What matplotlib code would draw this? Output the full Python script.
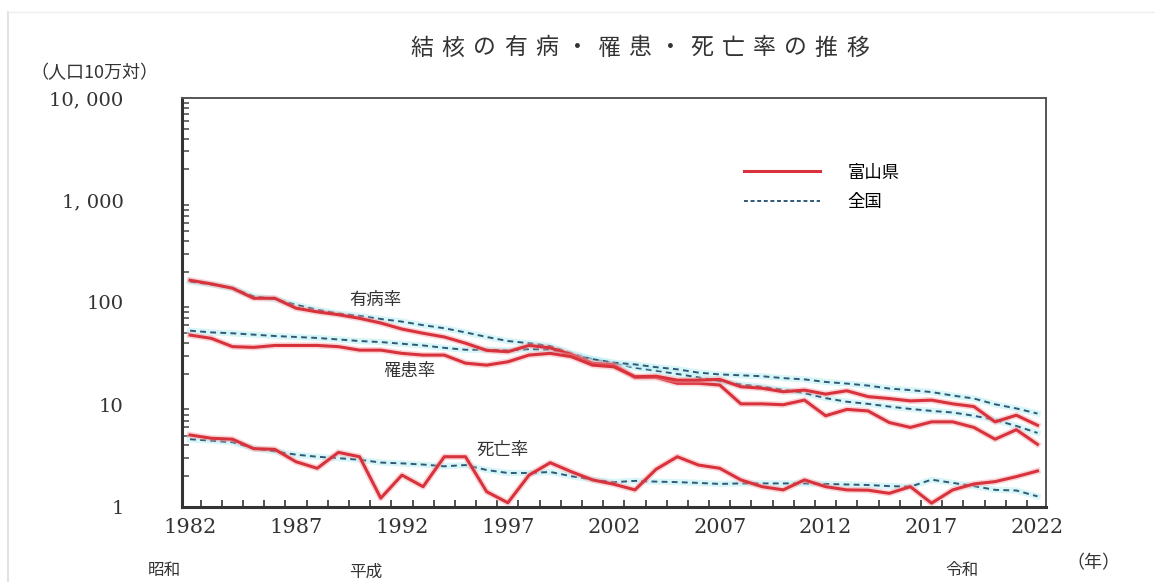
import matplotlib.pyplot as plt
import numpy as np
from matplotlib.lines import Line2D

plt.rcParams['font.family'] = ['Noto Sans CJK JP', 'DejaVu Sans']

# 人口10万対の率（1982〜2022年）
years = list(range(1982, 2023))

toyama_prevalence = [165, 152, 138, 110, 110, 88, 81, 76, 70, 63,
                     55, 50, 46, 40, 34, 33, 38, 36, 31, 25.4,
                     24.5, 18.5, 18.5, 16.2, 16.2, 15.6, 10.2, 10.2, 10.0, 11.1,
                     7.8, 9.0, 8.7, 6.7, 6.0, 6.8, 6.8, 6.0, 4.6, 5.7,
                     4.1]
toyama_incidence = [48, 44.6, 37, 36.4, 38, 38, 38, 37, 34.2, 34.2,
                    31.8, 30.6, 30.6, 25.5, 24.4, 26.3, 30.6, 31.8, 29.5, 24.4,
                    23.5, 18.8, 19.0, 17.4, 17.4, 17.7, 15.0, 14.5, 13.4, 13.9,
                    12.7, 13.7, 12.0, 11.5, 10.9, 11.1, 10.2, 9.6, 6.8, 7.9,
                    6.3]
toyama_death = [5.06, 4.7, 4.6, 3.72, 3.66, 2.77, 2.39, 3.42, 3.1, 1.22,
                2.05, 1.58, 3.1, 3.1, 1.41, 1.1, 2.05, 2.71, 2.21, 1.84,
                1.67, 1.47, 2.34, 3.1, 2.57, 2.39, 1.84, 1.58, 1.47, 1.84,
                1.58, 1.47, 1.46, 1.36, 1.58, 1.09, 1.47, 1.68, 1.77, 1.98,
                2.25]

japan_prevalence = [160, 150, 138, 115, 108, 95, 85, 78, 74, 69,
                    65, 60, 56, 51, 46, 42, 40, 37.5, 32, 28,
                    25.4, 23, 21.5, 20, 18.5, 17, 15.8, 15, 14, 13,
                    11.6, 10.7, 10.2, 9.6, 9.1, 8.7, 8.4, 7.8, 7.1, 6.2,
                    5.3]
japan_incidence = [53, 51, 50, 48.5, 47, 46, 45, 43.5, 42, 41,
                   39.5, 38, 36, 34.5, 34.5, 34, 35, 34.6, 30.7, 27.9,
                   25.8, 24.8, 23.3, 22.2, 20.6, 19.8, 19.4, 19.0, 18.2, 17.7,
                   16.7, 16.1, 15.4, 14.4, 13.9, 13.3, 12.3, 11.5, 10.1, 9.2,
                   8.2]
japan_death = [4.6, 4.45, 4.3, 3.75, 3.5, 3.25, 3.1, 3.0, 2.9, 2.72,
               2.67, 2.6, 2.5, 2.57, 2.3, 2.15, 2.15, 2.2, 2.0, 1.85,
               1.75, 1.8, 1.77, 1.75, 1.72, 1.68, 1.7, 1.7, 1.7, 1.7,
               1.68, 1.66, 1.64, 1.6, 1.58, 1.85, 1.72, 1.6, 1.47, 1.45,
               1.27]

year_labels = [1982, 1987, 1992, 1997, 2002, 2007, 2012, 2017, 2022]
y_ticks = [1, 10, 100, 1000, 10000]
y_labels = ['1', '10', '100', '1, 000', '10, 000']

RED = '#d8323c'
DASH = '#2e5a78'

fig = plt.figure(figsize=(11.55, 5.82), dpi=100)
ax = fig.add_axes([0.1576, 0.1289, 0.748, 0.7027])


def toyama_line(values):
    ax.plot(years, values, color='#f4a0a4', lw=4.5, alpha=0.45, solid_joinstyle='round')
    ax.plot(years, values, color=RED, lw=2.2, solid_joinstyle='round')


def japan_line(values):
    ax.plot(years, values, color='#bff0f4', lw=4.5, alpha=0.6)
    ax.plot(years, values, color=DASH, lw=1.4, dashes=(3, 2.2))


for v in (japan_prevalence, japan_incidence, japan_death):
    japan_line(v)
for v in (toyama_prevalence, toyama_incidence, toyama_death):
    toyama_line(v)

ax.set_yscale('log')
ax.set_ylim(1, 10000)
ax.set_xlim(1981.62, 2022.4)

ax.set_yticks(y_ticks)
ax.set_yticklabels(y_labels, family='DejaVu Serif', fontsize=14, color='#333333')
ax.set_xticks(year_labels)
ax.set_xticklabels([str(y) for y in year_labels], family='DejaVu Serif', fontsize=15,
                   color='#333333')
ax.set_xticks(np.arange(1982.5, 2022, 1.0), minor=True)
ax.tick_params(axis='x', which='major', length=0, pad=8)
ax.tick_params(axis='x', which='minor', direction='in', length=5, width=1.2, color='#333333')
ax.tick_params(axis='y', which='major', direction='in', length=0, pad=42)
ax.tick_params(axis='y', which='minor', direction='in', length=5, width=1.1, color='#444444',
               labelleft=False)
for lbl in ax.get_yticklabels():
    lbl.set_horizontalalignment('right')

for side in ('left', 'bottom'):
    ax.spines[side].set_linewidth(2.2)
    ax.spines[side].set_color('#333333')
for side in ('top', 'right'):
    ax.spines[side].set_linewidth(1.4)
    ax.spines[side].set_color('#555555')

# 系列名
ax.text(1989.5, 105, '有病率', fontsize=12.5, color='#333333', va='center')
ax.text(1991.1, 21.5, '罹患率', fontsize=12.5, color='#333333', va='center')
ax.text(1995.5, 3.6, '死亡率', fontsize=12.5, color='#333333', va='center')

# 凡例
handles = [Line2D([], [], color=RED, lw=2.2),
           Line2D([], [], color=DASH, lw=1.4, dashes=(2, 1.4))]
ax.legend(handles, ['富山県', '全国'], loc='upper left', bbox_to_anchor=(0.632, 0.878),
          frameon=False, fontsize=12.5, handlelength=4.4, handletextpad=1.6,
          labelspacing=0.65)

# タイトル（字間を空けて配置）
title = '結核の有病・罹患・死亡率の推移'
for i, ch in enumerate(title):
    fig.text((422 + i * 31.1) / 1155, 1 - 48 / 582, ch, fontsize=16.5, color='#333333',
             ha='center', va='center')

fig.text(30 / 1155, 1 - 73 / 582, '（人口10万対）', fontsize=13, color='#333333',
         va='center', ha='left')
fig.text(148 / 1155, 1 - 570 / 582, '昭和', fontsize=12, color='#333333', va='center')
fig.text(349 / 1155, 1 - 572 / 582, '平成', fontsize=12, color='#333333', va='center')
fig.text(945 / 1155, 1 - 570 / 582, '令和', fontsize=12, color='#333333', va='center')
fig.text(1066 / 1155, 1 - 563 / 582, '（年）', fontsize=13, color='#333333', va='center')

# 外枠
fig.add_artist(Line2D([8 / 1155, 8 / 1155], [0, 1 - 12 / 582], color='#dddddd', lw=1.2))
fig.add_artist(Line2D([8 / 1155, 1], [1 - 12 / 582, 1 - 12 / 582], color='#eeeeee', lw=1.0))

fig.savefig('out.png', dpi=100)
